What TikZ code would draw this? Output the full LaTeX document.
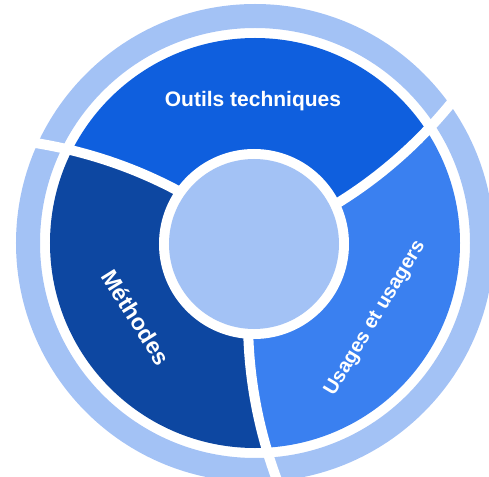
\documentclass[tikz,border=0pt]{standalone}
\usepackage{fontspec}
\setmainfont{Liberation Sans}
\definecolor{outilsc}{HTML}{0F5FDE}
\definecolor{methc}{HTML}{0D47A1}
\definecolor{usagc}{HTML}{3A80F0}
\definecolor{lightc}{HTML}{A3C2F5}
\tikzset{
  lbl/.style={text=white, font=\bfseries\fontsize{21}{24}\selectfont, inner sep=0pt},
  divider/.style={draw=white, line width=10pt},
}
\begin{document}
\begin{tikzpicture}[x=1pt,y=1pt]
\useasboundingbox (-255,-233) rectangle (234,243);
% outer ring
\draw[lightc, line width=24pt] (0,0) circle (227pt);
% segments
\begin{scope}
\clip (0,0) circle (205pt);
\fill[outilsc] plot[domain=40:300,samples=40] ({26+0.065*(\x-95)}:\x)
  arc[start angle={26+0.065*205}, end angle={146+0.065*205}, radius=300pt]
  -- plot[domain=300:40,samples=40] ({146+0.065*(\x-95)}:\x) -- cycle;
\fill[methc] plot[domain=40:300,samples=40] ({146+0.065*(\x-95)}:\x)
  arc[start angle={146+0.065*205}, end angle={266+0.065*205}, radius=300pt]
  -- plot[domain=300:40,samples=40] ({266+0.065*(\x-95)}:\x) -- cycle;
\fill[usagc] plot[domain=40:300,samples=40] ({266+0.065*(\x-95)}:\x)
  arc[start angle={266+0.065*205}, end angle={386+0.065*205}, radius=300pt]
  -- plot[domain=300:40,samples=40] ({386+0.065*(\x-95)}:\x) -- cycle;
\end{scope}
% dividers
\foreach \a in {26,146,266}
  \draw[divider] plot[domain=80:320,samples=50] ({\a+0.065*(\x-95)}:\x);
% inner circle
\fill[white] (-1,-1) circle (95pt);
\fill[lightc] (-1,-1) circle (85pt);
% labels
\node[lbl, anchor=base] (outils) at (-2,136) {Outils techniques};
\node[lbl, rotate=-58, font=\bfseries\fontsize{23}{26}\selectfont] (meth) at (212:140) {Méthodes};
\node[lbl, rotate=59, font=\bfseries\fontsize{20}{23}\selectfont] (usag) at (328:142) {Usages et usagers};
\end{tikzpicture}
\end{document}
